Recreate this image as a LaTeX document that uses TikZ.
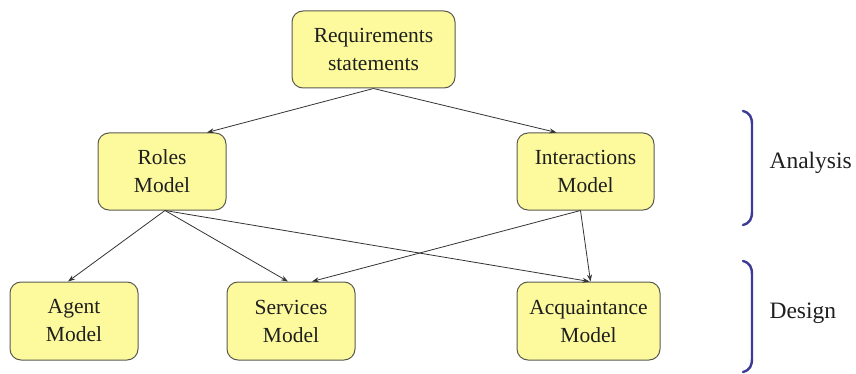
\documentclass[tikz,border=0pt]{standalone}
\usepackage{fontspec}
\setmainfont{Liberation Serif}
\usetikzlibrary{arrows.meta,calc}
\definecolor{boxfill}{HTML}{FCFA9C}
\definecolor{boxline}{HTML}{5A5A50}
\definecolor{brk}{HTML}{3C3A96}
\tikzset{
  box/.style={draw=boxline, line width=1pt, fill=boxfill, rounded corners=11pt,
    align=center, inner sep=0pt, font=\fontsize{21.5}{28}\selectfont, text=black!88},
  conn/.style={draw=black!80, line width=0.8pt, -{Stealth[length=7pt,width=5pt]}},
  phase/.style={font=\fontsize{23.5}{28}\selectfont, text=black!88, anchor=west},
  bracket/.style={draw=brk, line width=2.4pt, line cap=round}
}
\begin{document}
\begin{tikzpicture}[x=1pt,y=-1pt]
\useasboundingbox (0,0) rectangle (856,374);
\node[box, minimum width=163pt, minimum height=77pt] (req) at (373.5,49.5) {Requirements\\statements};
\node[box, minimum width=128pt, minimum height=77pt] (roles) at (162,171.5) {Roles\\Model};
\node[box, minimum width=137pt, minimum height=77pt] (inter) at (585.5,171.5) {Interactions\\Model};
\node[box, minimum width=128pt, minimum height=78pt] (agent) at (74,321) {Agent\\Model};
\node[box, minimum width=128pt, minimum height=78pt] (serv) at (291,321) {Services\\Model};
\node[box, minimum width=143pt, minimum height=78pt] (acq) at (588.5,321) {Acquaintance\\Model};

\draw[conn] (req.south) -- ([xshift=45pt]roles.north);
\draw[conn] (req.south) -- ([xshift=-29pt]inter.north);
\draw[conn] ([xshift=3pt]roles.south) -- ([xshift=-6pt]agent.north);
\draw[conn] ([xshift=3pt]roles.south) -- ([xshift=-3pt]serv.north);
\draw[conn] ([xshift=3pt]roles.south) -- ([xshift=1pt]acq.north);
\draw[conn] ([xshift=-5pt]inter.south) -- ([xshift=21pt]serv.north);
\draw[conn] ([xshift=-5pt]inter.south) -- ([xshift=2pt]acq.north);

\node[phase] (ana) at (766,163) {Analysis};
\node[phase] (des) at (766,313) {Design};
\draw[bracket] (743,111) .. controls (750,113) and (752,117) .. (752,125)
  -- (752,211) .. controls (752,219) and (750,223) .. (743,225);
\draw[bracket] (743,261) .. controls (750,263) and (752,267) .. (752,275)
  -- (752,358) .. controls (752,366) and (750,370) .. (743,372);
\end{tikzpicture}
\end{document}
